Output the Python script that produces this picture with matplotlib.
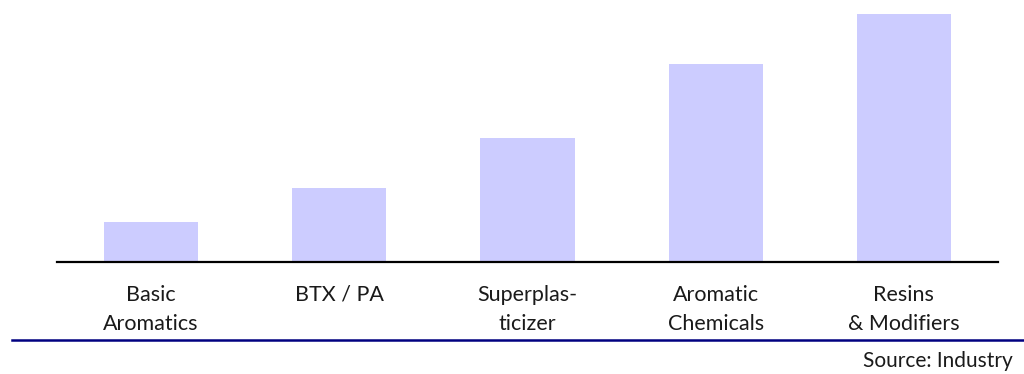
import matplotlib
matplotlib.use("Agg")
import matplotlib.pyplot as plt
from matplotlib.lines import Line2D

categories = ["Basic\nAromatics", "BTX / PA", "Superplas-\nticizer",
              "Aromatic\nChemicals", "Resins\n& Modifiers"]
values = [1.6, 3.0, 5.0, 8.0, 10.0]
source_note = "Source: Industry"

W, H = 1024, 374
fig = plt.figure(figsize=(W / 100, H / 100), dpi=100)
plt.rcParams["font.family"] = ["Lato", "DejaVu Sans"]

ax = fig.add_axes([57 / W, 1 - 262 / H, (998 - 57) / W, 262 / H])
x = range(len(categories))
ax.bar(x, values, width=0.5, color="#CCCCFF", edgecolor="none", zorder=1)
ax.set_xlim(-0.5, len(categories) - 0.5)
ax.set_ylim(0, 262 / 24.8)

for side in ("top", "right", "left"):
    ax.spines[side].set_visible(False)
ax.spines["bottom"].set_color("black")
ax.spines["bottom"].set_linewidth(1.6)
ax.spines["bottom"].set_zorder(3)
ax.set_yticks([])
ax.set_xticks(list(x))
ax.set_xticklabels(categories, fontsize=15.5, color="#1a1a1a", linespacing=1.55)
ax.tick_params(axis="x", length=0, pad=16.5)

# divider rule under the category labels
fig.add_artist(Line2D([12 / W, 1.0], [1 - 340 / H, 1 - 340 / H],
                      color="#000080", linewidth=1.8))
fig.text(1013 / W, 1 - 361 / H, source_note, ha="right", va="center",
         fontsize=15, color="#1a1a1a")

fig.savefig("out.png", dpi=100, facecolor="white")
